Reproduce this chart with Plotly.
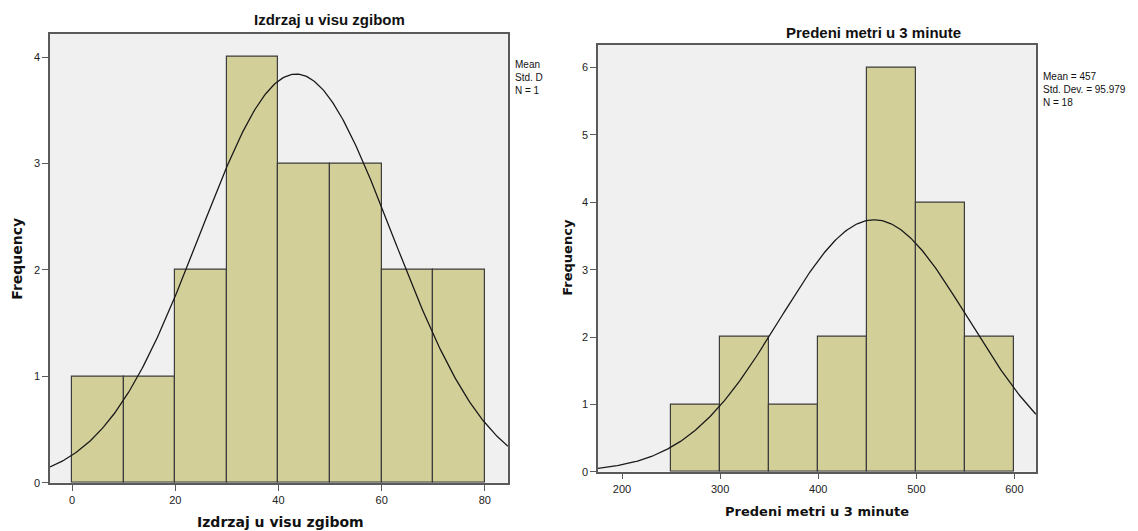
import numpy as np
import plotly.graph_objects as go

# Left histogram: Izdrzaj u visu zgibom
left_bin_starts = [0, 10, 20, 30, 40, 50, 60, 70]
left_counts = [1, 1, 2, 4, 3, 3, 2, 2]
left_bin_width = 10
left_mean = 43.4
left_sd = 18.7
left_n = 18

# Right histogram: Predeni metri u 3 minute
right_bin_starts = [250, 300, 350, 400, 450, 500, 550]
right_counts = [1, 2, 1, 2, 6, 4, 2]
right_bin_width = 50
right_mean = 457
right_sd = 95.979
right_n = 18

left_ticks = [0, 20, 40, 60, 80]
right_ticks = [200, 300, 400, 500, 600]

BAR_FILL = "#D3CF99"
BAR_LINE = "#3C3C3C"
PLOT_BG = "#F0F0F0"
FRAME = "#5A5A5A"

fig = go.Figure()


def add_hist(starts, counts, width, mean, sd, n, xref, yref, xr):
    centers = [s + width / 2 for s in starts]
    fig.add_trace(go.Bar(
        x=centers, y=counts, width=[width] * len(counts),
        marker=dict(color=BAR_FILL, line=dict(color=BAR_LINE, width=1.2)),
        xaxis=xref, yaxis=yref, showlegend=False, hoverinfo="skip"))
    xs = np.linspace(xr[0], xr[1], 300)
    ys = n * width / (sd * np.sqrt(2 * np.pi)) * np.exp(-0.5 * ((xs - mean) / sd) ** 2)
    fig.add_trace(go.Scatter(
        x=xs, y=ys, mode="lines", line=dict(color="#1a1a1a", width=1.3),
        xaxis=xref, yaxis=yref, showlegend=False, hoverinfo="skip"))


lxr = [-4.3, 84.5]
rxr = [175.5, 622]
add_hist(left_bin_starts, left_counts, left_bin_width, left_mean, left_sd, left_n, "x", "y", lxr)
add_hist(right_bin_starts, right_counts, right_bin_width, right_mean, right_sd, right_n, "x2", "y2", rxr)

W, H = 1138, 531


def py(y):
    # vertical pixel position (compensating the observed render scale)
    return (y - 0.5) / 0.984


axis_common = dict(
    showline=True, linecolor=FRAME, linewidth=1.5, mirror=True,
    ticks="outside", ticklen=6, tickcolor=FRAME, tickwidth=1,
    showgrid=False, zeroline=False,
    tickfont=dict(family="Liberation Sans, Arial", size=11, color="#222"),
)

fig.update_layout(
    width=W, height=H,
    margin=dict(l=0, r=0, t=0, b=0),
    paper_bgcolor="white", plot_bgcolor=PLOT_BG,
    bargap=0,
    xaxis=dict(domain=[50 / W, 508 / W], range=lxr, tickvals=left_ticks, anchor="y", **axis_common),
    yaxis=dict(domain=[1 - py(481) / H, 1 - py(34) / H], range=[0, 4.22], tickvals=[0, 1, 2, 3, 4], anchor="x", **axis_common),
    xaxis2=dict(domain=[598 / W, 1036 / W], range=rxr, tickvals=right_ticks, anchor="y2", **axis_common),
    yaxis2=dict(domain=[1 - py(470) / H, 1 - py(45) / H], range=[0, 6.34], tickvals=[0, 1, 2, 3, 4, 5, 6], anchor="x2", **axis_common),
)

title_font = dict(family="Liberation Sans, Arial", size=15, color="#111")
axis_title_font_l = dict(family="DejaVu Sans", size=14, color="#111")
axis_title_font_r = dict(family="DejaVu Sans", size=13, color="#111")
stat_font = dict(family="Liberation Sans, Arial", size=10, color="#111")


def ann(text, x, y, font, xanchor="center", yanchor="middle", angle=0, align="center"):
    fig.add_annotation(text=text, x=x / W, y=1 - py(y) / H, xref="paper", yref="paper",
                       showarrow=False, font=font, xanchor=xanchor, yanchor=yanchor,
                       textangle=angle, align=align)


ann("<b>Izdrzaj u visu zgibom</b>", 329, 20, title_font)
ann("<b>Predeni metri u 3 minute</b>", 873, 33, title_font)
ann("<b>Izdrzaj u visu zgibom</b>", 280, 520, axis_title_font_l)
ann("<b>Predeni metri u 3 minute</b>", 817, 510, axis_title_font_r)
ann("<b>Frequency</b>", 17, 258, axis_title_font_l, angle=-90)
ann("<b>Frequency</b>", 568, 257, axis_title_font_r, angle=-90)
ann("Mean<br>Std. D<br>N = 1", 513, 57, stat_font, xanchor="left", yanchor="top", align="left")
ann(f"Mean = {right_mean}<br>Std. Dev. = {right_sd}<br>N = {right_n}", 1041, 69, stat_font,
    xanchor="left", yanchor="top", align="left")

fig.write_html("out.html", config={"displayModeBar": False},
               post_script="document.body.style.margin='0';document.body.style.overflow='hidden';")
